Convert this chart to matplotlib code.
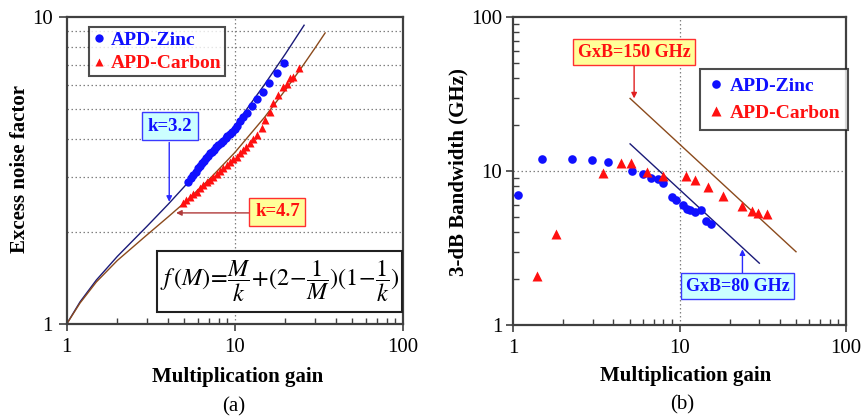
import matplotlib

matplotlib.use("Agg")
import matplotlib.pyplot as plt
from matplotlib.patches import Rectangle
from matplotlib.ticker import LogLocator, NullFormatter, FixedLocator, FixedFormatter

plt.rcParams["font.family"] = ["Liberation Serif", "DejaVu Serif"]
plt.rcParams["mathtext.fontset"] = "stix"

# ---- panel (a): excess noise factor ----
zinc_gain = [5.24, 5.45, 5.66, 5.85, 6.06, 6.2, 6.35, 6.55, 6.74, 6.92, 7.11, 7.3, 7.52, 7.75, 7.97,
             8.25, 8.53, 8.8, 9.02, 9.3, 9.57, 9.95, 10.3, 10.7, 11.2, 11.8, 12.6, 13.5, 14.6, 16.0, 17.7, 19.7]
zinc_noise = [2.91, 2.99, 3.06, 3.13, 3.21, 3.28, 3.34, 3.40, 3.47, 3.53, 3.60, 3.64, 3.69, 3.76, 3.83,
              3.89, 3.95, 4.03, 4.10, 4.16, 4.23, 4.32, 4.41, 4.59, 4.73, 4.88, 5.13, 5.40, 5.69, 6.08, 6.59, 7.10]
carbon_gain = [4.94, 5.15, 5.41, 5.65, 5.93, 6.2, 6.49, 6.8, 7.11, 7.45, 7.80, 8.15, 8.53, 8.95, 9.35, 9.8,
               10.3, 10.7, 11.2, 11.7, 12.3, 12.9, 13.5, 14.4, 15.1, 16.2, 16.9, 18.1, 19.4, 20.3, 21.3, 22.3, 24.2]
carbon_noise = [2.47, 2.53, 2.60, 2.65, 2.70, 2.77, 2.84, 2.89, 2.94, 3.01, 3.09, 3.15, 3.21, 3.29, 3.38, 3.44,
                3.51, 3.60, 3.69, 3.78, 3.88, 4.00, 4.13, 4.34, 4.62, 4.92, 5.24, 5.57, 5.93, 6.05, 6.31, 6.39, 6.81]

# theory curves f(M)
fit_gain_k32 = [1, 1.2, 1.5, 2, 3, 4, 5, 7, 10, 15, 20, 25.8]
fit_noise_k32 = [1, 1.18, 1.39, 1.66, 2.08, 2.45, 2.80, 3.46, 4.43, 6.02, 7.59, 9.40]
fit_gain_k47 = [1, 1.2, 1.5, 2, 3, 4, 5, 7, 10, 15, 20, 25, 30, 34.4]
fit_noise_k47 = [1, 1.17, 1.37, 1.61, 1.95, 2.23, 2.48, 2.95, 3.62, 4.71, 5.79, 6.86, 7.93, 8.87]

# ---- panel (b): 3-dB bandwidth ----
bw_zinc_gain = [1.06, 1.49, 2.24, 2.98, 3.7, 5.2, 6.05, 6.75, 7.45, 8.0, 9.05, 9.5, 10.5, 11.1, 11.6, 12.4, 13.4, 14.4, 15.5]
bw_zinc = [7.0, 12.0, 12.0, 11.8, 11.5, 9.95, 9.5, 9.0, 8.85, 8.3, 6.8, 6.5, 6.0, 5.7, 5.55, 5.4, 5.55, 4.7, 4.55]
bw_carbon_gain = [1.38, 1.81, 3.45, 4.43, 5.1, 6.35, 8.0, 10.9, 12.4, 14.9, 18.2, 23.9, 27.2, 29.8, 33.5]
bw_carbon = [2.08, 3.9, 9.75, 11.3, 11.3, 9.85, 9.3, 9.3, 8.75, 7.9, 6.9, 5.95, 5.5, 5.35, 5.25]

gxb150_gain = [5.04, 50.2]
gxb150_bw = [29.6, 2.99]
gxb80_gain = [5.04, 30.2]
gxb80_bw = [15.0, 2.52]

BLUE = "#1010ff"
RED = "#ff1010"
NAVY = "#1a1a78"
BROWN = "#8b4a1c"
SPINE = "#404040"
GRID = dict(color="#808080", linestyle=(0, (1.2, 2.0)), linewidth=0.9)
BOLD = dict(fontsize=15, fontweight="bold")


def style_axes(ax):
    ax.set_xscale("log")
    ax.set_yscale("log")
    for sp in ax.spines.values():
        sp.set_color(SPINE)
        sp.set_linewidth(1.6)
    ax.tick_params(which="major", direction="out", length=5, width=1.2, color=SPINE,
                   labelsize=15)
    ax.tick_params(axis="x", which="major", pad=5)
    ax.tick_params(axis="y", which="major", pad=3)
    ax.tick_params(which="minor", direction="in", length=4, width=1.0, color=SPINE)
    ax.xaxis.set_major_locator(FixedLocator([1, 10, 100]))
    ax.xaxis.set_major_formatter(FixedFormatter(["1", "10", "100"]))
    ax.xaxis.set_minor_locator(LogLocator(base=10, subs=range(2, 10)))
    ax.xaxis.set_minor_formatter(NullFormatter())
    ax.set_xlim(1, 100)


fig = plt.figure(figsize=(8.61, 4.18), dpi=100)
ax1 = fig.add_axes([0.0775, 0.225, 0.3906, 0.7344])
ax2 = fig.add_axes([0.5962, 0.2225, 0.3861, 0.7368])

# ---------- (a) ----------
style_axes(ax1)
ax1.set_ylim(1, 10)
ax1.yaxis.set_major_locator(FixedLocator([1, 10]))
ax1.yaxis.set_major_formatter(FixedFormatter(["1", "10"]))
ax1.yaxis.set_minor_locator(LogLocator(base=10, subs=range(2, 10)))
ax1.yaxis.set_minor_formatter(NullFormatter())
ax1.tick_params(axis="y", which="major", length=6, pad=4)
ax1.tick_params(axis="y", which="minor", length=0)
ax1.yaxis.grid(True, which="minor", **GRID)
ax1.axvline(10, zorder=0, **GRID)

ax1.plot(fit_gain_k32, fit_noise_k32, color=NAVY, lw=1.0, zorder=2)
ax1.plot(fit_gain_k47, fit_noise_k47, color=BROWN, lw=1.0, zorder=2)
ax1.plot(zinc_gain, zinc_noise, "o", color=BLUE, ms=6, mec="none", label="APD-Zinc", zorder=3)
ax1.plot(carbon_gain, carbon_noise, "^", color=RED, ms=5.5, mec="none", label="APD-Carbon", zorder=3)

leg1 = ax1.legend(loc="upper left", bbox_to_anchor=(0.067, 0.966), frameon=True, fancybox=False,
                  prop=dict(size=14, weight="bold"), handlelength=0.6, handletextpad=0.3,
                  borderpad=0.2, labelspacing=0.3, borderaxespad=0, markerscale=1.0)
leg1.get_frame().set_edgecolor("#202020")
leg1.get_frame().set_linewidth(1.5)
for txt, c in zip(leg1.get_texts(), [BLUE, RED]):
    txt.set_color(c)

ax1.text(4.12, 4.41, "k=3.2", color=BLUE, ha="center", va="center", fontsize=13.5, fontweight="bold",
         bbox=dict(boxstyle="square,pad=0.3", fc="#ccffff", ec="#3a3aff", lw=1.0), zorder=5)
ax1.annotate("", xy=(4.07, 2.50), xytext=(4.07, 3.9),
             arrowprops=dict(arrowstyle="-|>", color="#2a2aff", lw=1.0, mutation_scale=8,
                             shrinkA=0, shrinkB=0), zorder=4)
ax1.text(17.9, 2.32, "k=4.7", color=RED, ha="center", va="center", fontsize=13.5, fontweight="bold",
         bbox=dict(boxstyle="square,pad=0.3", fc="#ffff99", ec="#ff3030", lw=1.0), zorder=5)
ax1.annotate("", xy=(4.47, 2.30), xytext=(13.0, 2.30),
             arrowprops=dict(arrowstyle="-|>", color="#b03a3a", lw=1.0, mutation_scale=8,
                             shrinkA=0, shrinkB=0), zorder=4)

ax1.add_patch(Rectangle((0.269, 0.040), 0.727, 0.199, transform=ax1.transAxes,
                        fc="white", ec="#202020", lw=1.5, zorder=5))
ax1.text(0.633, 0.139, r"$f\,(M)\!=\!\dfrac{M}{k}\!+\!(2\!-\!\dfrac{1}{M})(1\!-\!\dfrac{1}{k})$",
         transform=ax1.transAxes, ha="center", va="center", fontsize=17.5, zorder=6)

ax1.text(-0.139, 0.505, "Excess noise factor", transform=ax1.transAxes, rotation=90,
         ha="center", va="center", **BOLD)
ax1.text(0.508, -0.172, "Multiplication gain", transform=ax1.transAxes, ha="center", va="center", **BOLD)
ax1.text(0.497, -0.269, "(a)", transform=ax1.transAxes, ha="center", va="center", fontsize=15)

# ---------- (b) ----------
style_axes(ax2)
ax2.set_ylim(1, 100)
ax2.yaxis.set_major_locator(FixedLocator([1, 10, 100]))
ax2.yaxis.set_major_formatter(FixedFormatter(["1", "10", "100"]))
ax2.yaxis.set_minor_locator(LogLocator(base=10, subs=range(2, 10)))
ax2.yaxis.set_minor_formatter(NullFormatter())
ax2.axhline(10, zorder=0, **GRID)
ax2.axvline(10, zorder=0, **GRID)

ax2.plot(gxb150_gain, gxb150_bw, color=BROWN, lw=1.0, zorder=2)
ax2.plot(gxb80_gain, gxb80_bw, color=NAVY, lw=1.0, zorder=2)
ax2.plot(bw_zinc_gain, bw_zinc, "o", color=BLUE, ms=6.2, mec="none", label="APD-Zinc", zorder=3)
ax2.plot(bw_carbon_gain, bw_carbon, "^", color=RED, ms=7, mec="none", label="APD-Carbon", zorder=3)

leg2 = ax2.legend(loc="upper left", bbox_to_anchor=(0.562, 0.830), frameon=True, fancybox=False,
                  prop=dict(size=14, weight="bold"), handlelength=0.8, handletextpad=0.3,
                  borderpad=0.4, labelspacing=0.5, borderaxespad=0)
leg2.get_frame().set_edgecolor("#202020")
leg2.get_frame().set_linewidth(1.5)
for txt, c in zip(leg2.get_texts(), [BLUE, RED]):
    txt.set_color(c)

ax2.text(5.33, 59.0, "GxB=150 GHz", color=RED, ha="center", va="center", fontsize=13, fontweight="bold",
         bbox=dict(boxstyle="square,pad=0.25", fc="#ffff99", ec="#ff3030", lw=1.0), zorder=5)
ax2.annotate("", xy=(5.33, 29.6), xytext=(5.33, 50.0),
             arrowprops=dict(arrowstyle="-|>", color="#e02020", lw=1.0, mutation_scale=8,
                             shrinkA=0, shrinkB=0), zorder=4)
ax2.text(22.4, 1.79, "GxB=80 GHz", color=BLUE, ha="center", va="center", fontsize=13, fontweight="bold",
         bbox=dict(boxstyle="square,pad=0.25", fc="#ccffff", ec="#3a3aff", lw=1.0), zorder=5)
ax2.annotate("", xy=(23.9, 3.10), xytext=(23.9, 2.05),
             arrowprops=dict(arrowstyle="-|>", color="#2a2aff", lw=1.0, mutation_scale=8,
                             shrinkA=0, shrinkB=0), zorder=4)

ax2.text(-0.166, 0.497, "3-dB Bandwidth (GHz)", transform=ax2.transAxes, rotation=90,
         ha="center", va="center", **BOLD)
ax2.text(0.517, -0.166, "Multiplication gain", transform=ax2.transAxes, ha="center", va="center", **BOLD)
ax2.text(0.507, -0.26, "(b)", transform=ax2.transAxes, ha="center", va="center", fontsize=15)

fig.savefig("out.png", dpi=100)
